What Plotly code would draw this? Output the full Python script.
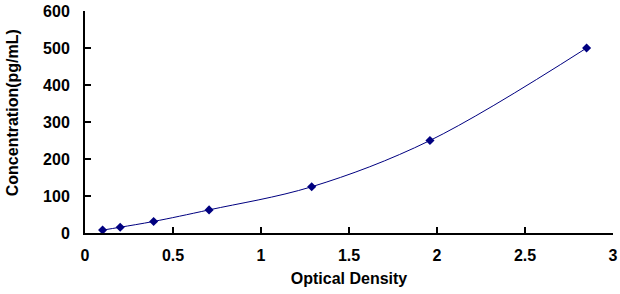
import plotly.graph_objects as go

od = [0.1, 0.2, 0.39, 0.705, 1.288, 1.96, 2.85]
conc = [7.8, 15.6, 31.25, 62.5, 125, 250, 500]

x_ticks = [0, 0.5, 1, 1.5, 2, 2.5, 3]
x_labels = ["0", "0.5", "1", "1.5", "2", "2.5", "3"]
y_ticks = [0, 100, 200, 300, 400, 500, 600]

navy = "#000080"
font = "Liberation Sans, Arial, sans-serif"

fig = go.Figure()
fig.add_trace(go.Scatter(
    x=od, y=conc, mode="lines+markers",
    line=dict(color=navy, width=1, shape="spline", smoothing=1.0),
    marker=dict(symbol="diamond", size=7, color=navy),
    showlegend=False,
))

tickfont = dict(family=font, size=16, color="black", weight="bold")

fig.update_layout(
    width=620, height=294,
    margin=dict(l=85, r=7, t=11, b=61, autoexpand=False),
    paper_bgcolor="white", plot_bgcolor="white",
    font=dict(family=font, size=16, color="black"),
    xaxis=dict(
        range=[0, 3], tickvals=x_ticks, ticktext=x_labels,
        showgrid=False, zeroline=False, automargin=False,
        showline=True, linecolor="black", linewidth=2,
        ticks="inside", ticklen=6, tickwidth=2, tickcolor="black",
        tickfont=tickfont,
        ticklabelstandoff=7,
        title=dict(text="<b>Optical Density</b>", font=dict(family=font, size=16), standoff=10),
    ),
    yaxis=dict(
        range=[0, 600], tickvals=y_ticks,
        showgrid=False, zeroline=False, automargin=False,
        showline=True, linecolor="black", linewidth=2,
        ticks="inside", ticklen=6, tickwidth=2, tickcolor="black",
        tickfont=tickfont,
        ticklabelstandoff=10,
    ),
    annotations=[dict(
        text="<b>Concentration(pg/mL)</b>", textangle=-90,
        xref="paper", yref="paper", x=-0.138, y=0.54,
        xanchor="center", yanchor="middle", showarrow=False,
        font=dict(family=font, size=16, color="black"),
    )],
)

fig.write_html("out.html")
